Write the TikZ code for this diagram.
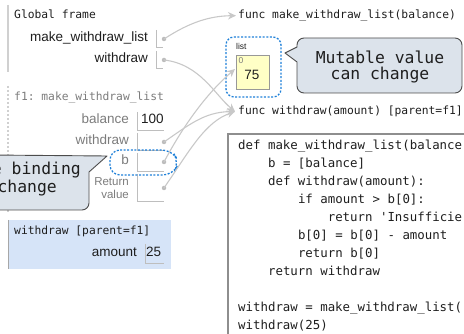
\documentclass[tikz,border=0pt]{standalone}
\usepackage{fontspec}
\setmainfont{Liberation Sans}
\setmonofont{DejaVu Sans Mono}
\usetikzlibrary{arrows.meta}

\definecolor{ptr}{HTML}{C8C8C8}
\definecolor{dotc}{HTML}{BDBDBD}
\definecolor{frameline}{HTML}{D0D0D0}
\definecolor{boxline}{HTML}{BEBEBE}
\definecolor{callfill}{HTML}{DCE3EB}
\definecolor{calledge}{HTML}{4C4C4C}
\definecolor{hlblue}{HTML}{1F80D8}
\definecolor{cellyellow}{HTML}{FFFFC6}
\definecolor{activeblue}{HTML}{D6E4F8}
\definecolor{codeedge}{HTML}{8E8E8E}
\definecolor{labelgray}{HTML}{7C7C7C}
\definecolor{inkc}{HTML}{1E1E1E}

\tikzset{
  monolbl/.style={font=\fontsize{11.3}{13}\ttfamily, inner sep=0pt, anchor=mid west, text=inkc},
  varlbl/.style={font=\fontsize{13.5}{16}\selectfont, inner sep=0pt, anchor=mid east, text=inkc},
  codeline/.style={font=\fontsize{12.4}{14}\ttfamily, inner sep=0pt, anchor=mid west, text=inkc},
  calltext/.style={font=\fontsize{16.4}{19}\ttfamily, inner sep=0pt, text=inkc},
  callout/.style={fill=callfill, draw=calledge, line width=0.9pt, line join=round},
  bindbox/.style={draw=boxline, line width=1pt},
  ptrdot/.style={circle, fill=dotc, inner sep=0pt, minimum size=4.5pt},
  ptrarrow/.style={draw=ptr, line width=1.1pt, -{Stealth[length=8pt,width=7.5pt]}},
  hl/.style={draw=hlblue, line width=1.3pt, dash pattern=on 2pt off 1.6pt},
}

\begin{document}
\begin{tikzpicture}[x=1pt,y=-1pt]
\useasboundingbox (0,0) rectangle (464,334);
\clip (0,0) rectangle (464,334);

% ---- Global frame ----
\draw[frameline, line width=1.2pt] (8,5) -- (8,72);
\node[monolbl] (gft) at (14,16) {Global frame};
\node[varlbl] (gmwl) at (148,39) {make\_withdraw\_list};
\node[varlbl] (gw) at (148,60) {withdraw};
\draw[bindbox] (156,30) -- (156,48) -- (163,48);
\draw[bindbox] (156,51) -- (156,69) -- (163,69);
\node[ptrdot] (gmwlp) at (164,39) {};
\node[ptrdot] (gwp) at (164,60) {};

% ---- f1 frame ----
\draw[frameline, line width=1.2pt, dash pattern=on 2pt off 2pt] (8,86) -- (8,212);
\node[monolbl, text=labelgray] (f1t) at (14,98) {f1: make\_withdraw\_list};
\node[varlbl, text=labelgray] (fbal) at (129,121) {balance};
\draw[bindbox] (137,112) -- (137,131) -- (164,131);
\node[varlbl, anchor=mid west] (fbalv) at (141,121) {100};
\node[varlbl, text=labelgray] (fw) at (129,142) {withdraw};
\draw[bindbox] (137,133) -- (137,151) -- (164,151);
\node[varlbl, text=labelgray] (fb) at (129,162) {b};
\draw[bindbox] (137,153) -- (137,172) -- (164,172);
\node[font=\fontsize{11.5}{12.5}\selectfont, align=right, anchor=east, inner sep=0pt, text=labelgray] (fr) at (129,188) {Return\\value};
\draw[bindbox] (137,174) -- (137,202) -- (164,202);
\node[ptrdot] (fwp) at (164,142) {};
\node[ptrdot] (fbp) at (164,162) {};
\node[ptrdot] (frp) at (164,188) {};

% highlight around the name b
\draw[hl, rounded corners=10pt] (110,150) -- (172,150) -- (179,162.5) -- (173,175) -- (110,175) -- cycle;

% callout on the left
\draw[callout] (-10,155) -- (107,156) -- (89,172) [rounded corners=7pt] -- (89,210) -- (-10,210) [sharp corners] -- cycle;
\node[calltext, anchor=mid east] (c1a) at (81,172) {e binding};
\node[calltext, anchor=mid east] (c1b) at (57,190) {change};

% ---- withdraw frame ----
\node[fill=activeblue, anchor=north west, minimum width=163pt, minimum height=49pt, inner sep=0pt] (wf) at (8,220) {};
\draw[frameline!80!black, line width=0.8pt] (wf.north west) -- (wf.south west);
\node[monolbl] (wft) at (14,232) {withdraw [parent=f1]};
\node[varlbl] (amt) at (137,254) {amount};
\draw[bindbox] (145,244) -- (145,264) -- (164,264);
\node[varlbl, anchor=mid west] (amtv) at (146,254) {25};

% ---- heap objects ----
\node[monolbl] (fmwl) at (238,16) {func make\_withdraw\_list(balance)};
\draw[hl, rounded corners=8pt] (226,37) rectangle (281,97);
\node[font=\fontsize{8.5}{9}\selectfont, inner sep=0pt, anchor=mid west, text=inkc] (lst) at (236,47) {list};
\node[fill=cellyellow, draw=boxline!80!black, line width=0.8pt, minimum width=33pt, minimum height=34pt, inner sep=0pt] (cell) at (252.5,72) {};
\node[font=\fontsize{8.5}{9}\selectfont, inner sep=0pt, text=labelgray] (idx) at (241,61) {0};
\node[font=\fontsize{13.5}{15}\selectfont, inner sep=0pt, text=inkc] (val) at (252,75) {75};
\coordinate (listin) at (235,69);

% callout on the right
\draw[callout] (297,62) -- (285,53) -- (297,47) [rounded corners=7pt] -- (297,38) -- (462,38) -- (462,93) -- (297,93) [sharp corners] -- cycle;
\node[calltext] (c2a) at (380,57) {Mutable value};
\node[calltext] (c2b) at (380,75) {can change};

\node[monolbl] (fwd) at (238,112) {func withdraw(amount) [parent=f1]};

% ---- code listing ----
\node[draw=codeedge, line width=1.8pt, anchor=north west, minimum width=270pt, minimum height=230pt, inner sep=0pt] (codebox) at (227,133) {};
\node[codeline] (l1) at (238,147) {def make\_withdraw\_list(balance};
\node[codeline] (l2) at (267.9,165) {b = [balance]};
\node[codeline] (l3) at (267.9,183) {def withdraw(amount):};
\node[codeline] (l4) at (297.8,201) {if amount > b[0]:};
\node[codeline] (l5) at (327.6,219) {return 'Insufficie};
\node[codeline] (l6) at (297.8,237) {b[0] = b[0] - amount};
\node[codeline] (l7) at (297.8,255) {return b[0]};
\node[codeline] (l8) at (267.9,273) {return withdraw};
\node[codeline] (l9) at (238,309) {withdraw = make\_withdraw\_list(};
\node[codeline] (l10) at (238,327) {withdraw(25)};

% ---- pointers ----
\draw[ptrarrow] (gmwlp.center) .. controls (190,22) and (210,16) .. ([xshift=-2pt]fmwl.west);
\draw[ptrarrow] (gwp.center) .. controls (200,64) and (215,95) .. ([xshift=-3pt]fwd.west);
\draw[ptrarrow] (fwp.center) .. controls (190,124) and (205,112) .. ([xshift=-3pt]fwd.west);
\draw[ptrarrow] (fbp.center) .. controls (182,128) and (205,95) .. (listin);
\draw[ptrarrow] (frp.center) .. controls (190,150) and (205,122) .. ([xshift=-3pt]fwd.west);
\end{tikzpicture}
\end{document}
